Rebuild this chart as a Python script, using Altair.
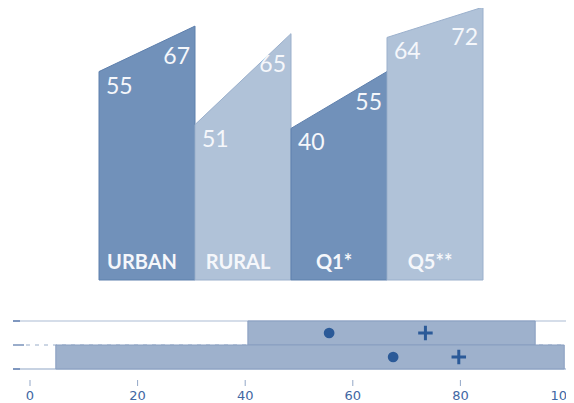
import altair as alt
import pandas as pd

# ---------------- data ----------------
categories = ["URBAN", "RURAL", "Q1*", "Q5**"]
left_labels = [55, 51, 40, 64]
right_labels = [67, 65, 55, 72]
left_heights = [55, 41, 40, 64]      # drawn height of each column's left edge
right_heights = [67, 65, 55, 72]     # drawn height of each column's right edge
fills = ["#7191ba", "#b0c2d8", "#7191ba", "#b0c2d8"]
strokes = ["#5f80ad", "#9bb0cc", "#5f80ad", "#9bb0cc"]

rows = ["upper", "lower"]
bar_start = [40.5, 4.8]
bar_end = [93.9, 99.3]
dot_vals = [55.6, 67.5]
plus_vals = [73.5, 79.7]
tick_values = [0, 20, 40, 60, 80, 100]

W, H = 558, 395

# ---------------- tables ----------------
area_rows, left_rows, right_rows, cat_rows = [], [], [], []
for i, c in enumerate(categories):
    area_rows.append({"cat": c, "pos": i, "h": left_heights[i], "base": 0})
    area_rows.append({"cat": c, "pos": i + 1, "h": right_heights[i], "base": 0})
    left_rows.append({"cat": c, "pos": i, "h": left_heights[i], "lab": str(left_labels[i])})
    right_rows.append({"cat": c, "pos": i + 1, "h": right_heights[i], "lab": str(right_labels[i])})
    cat_rows.append({"cat": c, "pos": i + 0.5})
area_df = pd.DataFrame(area_rows)
left_df = pd.DataFrame(left_rows)
right_df = pd.DataFrame(right_rows)
cat_df = pd.DataFrame(cat_rows)

n = len(rows)
bars_df = pd.DataFrame({
    "row": rows,
    "x1": bar_start,
    "x2": bar_end,
    "lo": [n - 1 - i for i in range(n)],
    "hi": [n - i for i in range(n)],
    "mid": [n - 1 - i + 0.5 for i in range(n)],
    "dot": dot_vals,
    "plus": plus_vals,
})
ticks_df = pd.DataFrame({"t": tick_values, "lab": [str(t) for t in tick_values]})

# ---------------- top: slanted columns ----------------
xs_top = alt.Scale(domain=[-0.94792, (W - 91) / 96], nice=False, zero=False)
ys_top = alt.Scale(domain=[-32.454, 71.768], nice=False, zero=False)
fill_scale = alt.Scale(domain=categories, range=fills)
stroke_scale = alt.Scale(domain=categories, range=strokes)

areas = alt.Chart(area_df).mark_area(strokeWidth=1, opacity=1, orient="vertical").encode(
    x=alt.X("pos:Q", scale=xs_top, axis=None),
    y=alt.Y("h:Q", scale=ys_top, axis=None, stack=None),
    y2=alt.Y2("base:Q"),
    fill=alt.Fill("cat:N", scale=fill_scale, legend=None),
    stroke=alt.Stroke("cat:N", scale=stroke_scale, legend=None),
    detail="cat:N",
)

left_text = alt.Chart(left_df).mark_text(
    align="left", baseline="middle", dx=7, dy=15,
    font="Lato", fontSize=23, color="#f5f7fb"
).encode(
    x=alt.X("pos:Q", scale=xs_top, axis=None),
    y=alt.Y("h:Q", scale=ys_top, axis=None),
    text="lab:N",
)

right_text = alt.Chart(right_df).mark_text(
    align="right", baseline="middle", dx=-5, dy=31,
    font="Lato", fontSize=23, color="#f5f7fb"
).encode(
    x=alt.X("pos:Q", scale=xs_top, axis=None),
    y=alt.Y("h:Q", scale=ys_top, axis=None),
    text="lab:N",
)

cat_text = alt.Chart(cat_df).mark_text(
    align="center", baseline="middle", dx=-5,
    font="Lato", fontSize=20, fontWeight="bold", color="#f5f7fb"
).encode(
    x=alt.X("pos:Q", scale=xs_top, axis=None),
    y=alt.value(255),
    text="cat:N",
)

top = alt.layer(areas, left_text, right_text, cat_text)

# ---------------- bottom: range bars ----------------
xs_bot = alt.Scale(domain=[-22 / 5.38, (W - 22) / 5.38], nice=False, zero=False)
ys_bot = alt.Scale(domain=[-1.4167, 15.0417], nice=False, zero=False)

lines_src = pd.DataFrame({"yb": [2, 1, 0], "kind": ["top", "mid", "bottom"]})

def line_layer(kind, color, width, dash=None, x0=16, x1=W):
    kw = dict(color=color, strokeWidth=width)
    if dash:
        kw["strokeDash"] = dash
    return alt.Chart(lines_src).transform_filter(
        alt.datum.kind == kind
    ).mark_rule(**kw).encode(
        x=alt.value(x0), x2=alt.value(x1),
        y=alt.Y("yb:Q", scale=ys_bot, axis=None),
    )

top_line = line_layer("top", "#c7d2e2", 1.5, x0=12)
mid_line = line_layer("mid", "#bcc9dc", 1.5, dash=[4, 5], x0=18)
bot_line = line_layer("bottom", "#c7d2e2", 2, x0=12)

stubs = alt.Chart(lines_src).transform_filter(
    alt.datum.kind != "mid"
).mark_rule(color="#7f97bf", strokeWidth=2).encode(
    x=alt.value(5), x2=alt.value(12),
    y=alt.Y("yb:Q", scale=ys_bot, axis=None),
)
mid_stub = alt.Chart(lines_src).transform_filter(
    alt.datum.kind == "mid"
).mark_rule(color="#9aadcb", strokeWidth=2).encode(
    x=alt.value(5), x2=alt.value(16),
    y=alt.Y("yb:Q", scale=ys_bot, axis=None),
)

bars = alt.Chart(bars_df).mark_rect(
    fill="#9eb1cc", stroke="#889ec0", strokeWidth=1
).encode(
    x=alt.X("x1:Q", scale=xs_bot, axis=None),
    x2="x2:Q",
    y=alt.Y("lo:Q", scale=ys_bot, axis=None),
    y2="hi:Q",
)

dots = alt.Chart(bars_df).mark_circle(size=115, color="#2b5a98", opacity=1).encode(
    x=alt.X("dot:Q", scale=xs_bot, axis=None),
    y=alt.Y("mid:Q", scale=ys_bot, axis=None),
)

pluses = alt.Chart(bars_df).mark_point(
    shape="M-1,0H1M0,-1V1", size=210, filled=False,
    stroke="#2b5a98", strokeWidth=3, opacity=1
).encode(
    x=alt.X("plus:Q", scale=xs_bot, axis=None),
    y=alt.Y("mid:Q", scale=ys_bot, axis=None),
)

ticks = alt.Chart(ticks_df).mark_rule(color="#93a7c7", strokeWidth=1).encode(
    x=alt.X("t:Q", scale=xs_bot, axis=None),
    y=alt.value(372), y2=alt.value(378),
)

label_style = dict(align="center", baseline="middle", font="DejaVu Sans",
                   fontSize=13, color="#4167a3")
tick_labels = alt.Chart(ticks_df).transform_filter(
    alt.datum.t < 100
).mark_text(**label_style).encode(
    x=alt.X("t:Q", scale=xs_bot, axis=None),
    y=alt.value(388),
    text="lab:N",
)
# the last label sits at the very edge of the picture (cut off there)
last_label = alt.Chart(ticks_df).transform_filter(
    alt.datum.t >= 100
).mark_text(dx=-5, **label_style).encode(
    x=alt.X("t:Q", scale=xs_bot, axis=None),
    y=alt.value(388),
    text="lab:N",
)

bottom = alt.layer(top_line, mid_line, bot_line, stubs, mid_stub,
                   bars, dots, pluses, ticks, tick_labels, last_label)

chart = alt.layer(top, bottom).resolve_scale(
    x="independent", y="independent"
).properties(
    width=W, height=H, padding=0,
    autosize=alt.AutoSizeParams(type="none"),
    background="white",
).configure_view(stroke=None)

chart.save("out.html", embed_options={"renderer": "svg", "actions": False})
